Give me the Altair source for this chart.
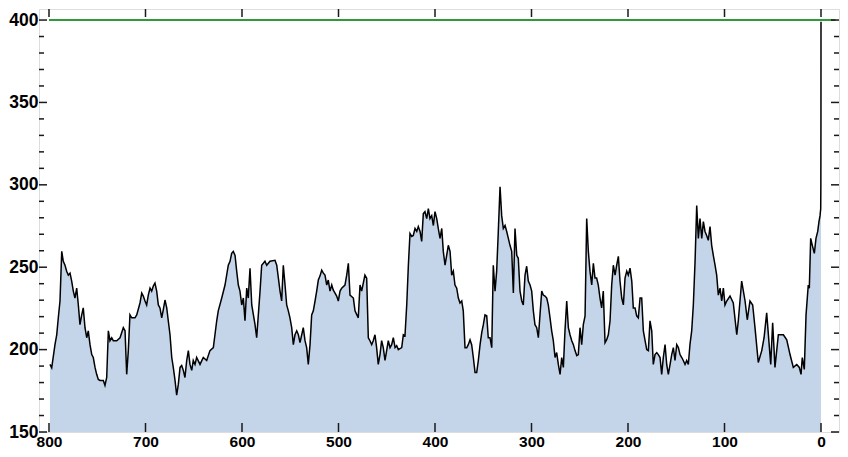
import altair as alt
import pandas as pd

# thousands of years before present
kyr = [799.0, 797.2, 793.8, 792.0, 790.4, 788.6, 786.8, 785.2, 783.4, 781.7, 780.0, 778.2, 776.5, 774.8,
       773.1, 771.3, 769.6, 767.9, 766.1, 764.5, 762.7, 760.9, 759.3, 757.5, 755.7, 754.1, 752.3, 750.6,
       748.9, 747.1, 743.7, 742.0, 740.2, 738.5, 736.8, 735.0, 733.4, 729.8, 726.4, 723.0, 721.2, 719.5,
       717.8, 716.1, 714.3, 710.9, 709.1, 705.7, 703.9, 702.3, 700.5, 698.8, 697.1, 695.3, 693.6, 691.9,
       690.2, 688.4, 686.7, 685.0, 683.2, 681.6, 679.8, 678.0, 676.4, 674.6, 672.8, 671.2, 669.4, 667.7,
       666.0, 664.2, 662.5, 660.8, 659.1, 657.3, 655.6, 653.9, 652.1, 650.5, 648.7, 647.0, 643.5, 640.1,
       636.6, 633.2, 629.7, 626.2, 624.6, 621.0, 617.6, 614.2, 612.4, 610.7, 609.0, 607.2, 605.5, 603.8,
       602.1, 600.3, 598.6, 596.9, 595.1, 593.5, 591.7, 589.9, 586.5, 584.8, 581.3, 579.6, 576.2, 574.4,
       571.0, 565.8, 564.0, 560.6, 558.9, 557.2, 555.4, 553.7, 552.0, 550.3, 548.5, 546.8, 545.1, 543.3,
       541.6, 539.9, 538.1, 536.5, 534.7, 533.0, 531.3, 529.5, 527.8, 526.1, 524.3, 522.6, 520.9, 519.2,
       517.4, 515.7, 514.0, 512.2, 510.6, 508.8, 507.0, 505.4, 503.6, 501.9, 500.2, 498.4, 496.7, 493.3,
       491.5, 489.8, 488.1, 484.6, 482.9, 479.5, 477.7, 476.0, 472.6, 470.8, 469.1, 467.4, 465.6, 464.0,
       462.2, 460.5, 458.8, 457.0, 455.3, 453.6, 451.8, 450.1, 448.4, 446.6, 444.9, 443.2, 441.4, 439.7,
       438.0, 434.5, 432.8, 431.1, 429.3, 427.6, 425.9, 424.1, 422.5, 420.7, 418.9, 417.3, 415.5, 413.8,
       412.1, 410.4, 408.6, 406.9, 405.2, 403.4, 401.7, 400.0, 398.2, 396.6, 394.8, 393.0, 391.4, 389.6,
       387.9, 386.2, 384.4, 382.7, 381.0, 379.3, 377.5, 375.8, 374.1, 372.3, 370.7, 368.9, 367.1, 365.5,
       363.7, 362.0, 360.3, 358.5, 356.8, 355.1, 353.3, 351.6, 349.9, 348.2, 346.4, 344.8, 343.0, 341.2,
       339.6, 337.8, 336.1, 334.4, 332.6, 330.9, 329.2, 327.4, 325.7, 324.0, 322.3, 320.5, 318.8, 317.1,
       315.3, 313.7, 311.9, 310.1, 308.5, 306.7, 305.0, 303.3, 301.5, 299.8, 298.1, 296.4, 294.6, 292.9,
       291.2, 289.4, 287.8, 286.0, 284.2, 282.6, 280.8, 279.1, 277.4, 275.6, 273.9, 272.2, 270.4, 268.7,
       267.0, 265.3, 263.5, 261.8, 260.1, 258.3, 256.6, 254.9, 253.1, 251.5, 249.7, 248.0, 246.3, 244.5,
       242.8, 241.1, 239.4, 237.6, 235.9, 234.2, 232.5, 230.8, 229.0, 227.3, 225.6, 223.8, 222.1, 220.4,
       218.6, 216.9, 215.2, 213.4, 211.7, 210.0, 208.3, 206.5, 204.8, 203.1, 201.3, 199.7, 197.9, 196.1,
       194.5, 192.7, 191.0, 189.3, 187.5, 185.8, 184.1, 182.3, 180.6, 178.9, 177.2, 175.4, 173.8, 172.0,
       170.2, 168.6, 166.8, 165.1, 163.4, 161.6, 159.9, 158.2, 156.4, 154.7, 153.0, 151.3, 149.5, 147.8,
       146.1, 144.3, 142.7, 140.9, 139.2, 137.5, 135.8, 134.0, 132.3, 130.5, 128.8, 127.1, 125.4, 123.6,
       121.9, 120.2, 118.5, 116.8, 115.0, 113.3, 111.6, 109.8, 108.1, 106.4, 104.6, 102.9, 101.2, 99.5,
       97.7, 94.3, 90.9, 87.3, 85.7, 82.2, 78.7, 76.4, 73.6, 70.8, 68.4, 65.0, 61.4, 59.0,
       56.3, 52.1, 50.1, 47.7, 44.2, 39.0, 35.5, 32.1, 28.7, 25.1, 22.5, 20.7, 19.4, 17.3,
       15.5, 14.2, 13.2, 12.1, 10.7, 9.0, 6.9, 5.2, 3.4, 2.1, 1.0, 0.3, 0.15, 0.05, 0.0]

# CO2 (ppm)
co2 = [191.0, 189.0, 203.0, 209.0, 219.0, 229.5, 259.6, 253.6, 251.2, 247.6, 245.2, 246.4, 241.6, 235.5,
       231.3, 237.3, 227.1, 215.1, 221.1, 225.3, 213.3, 207.2, 211.4, 203.0, 197.0, 195.2, 189.2, 185.0,
       181.9, 181.3, 181.3, 178.3, 183.1, 211.4, 205.4, 207.2, 205.4, 205.4, 207.2, 213.3, 211.4, 185.0,
       199.4, 221.1, 219.3, 219.3, 221.1, 228.3, 234.3, 232.5, 229.5, 227.1, 233.1, 237.3, 235.5, 238.6,
       240.4, 235.5, 227.1, 225.3, 219.3, 224.1, 230.1, 225.3, 217.5, 209.0, 195.2, 189.2, 181.3, 172.3,
       178.9, 189.2, 190.4, 187.4, 183.1, 193.4, 199.4, 191.0, 187.4, 193.4, 191.0, 195.2, 191.0, 195.2,
       193.4, 199.4, 201.2, 217.5, 223.5, 231.3, 239.2, 251.2, 253.6, 258.4, 259.6, 257.2, 247.6, 239.2,
       235.5, 227.1, 231.3, 217.5, 237.3, 231.3, 249.4, 227.1, 215.1, 207.2, 235.5, 251.2, 253.6, 251.2,
       253.6, 254.2, 251.2, 235.5, 229.5, 251.2, 239.2, 227.1, 223.5, 219.3, 213.3, 203.0, 209.0, 211.4,
       209.0, 204.2, 209.0, 213.3, 205.4, 201.2, 191.0, 203.0, 221.1, 223.5, 229.5, 235.5, 242.2, 244.6,
       248.2, 246.4, 245.2, 239.2, 242.2, 235.5, 239.2, 236.1, 234.3, 232.5, 229.5, 235.5, 237.3, 239.2,
       245.2, 252.4, 233.1, 231.3, 223.5, 219.3, 239.2, 235.5, 245.2, 243.4, 207.2, 205.4, 203.0, 205.4,
       209.0, 201.2, 191.0, 197.0, 205.4, 201.2, 193.4, 199.4, 205.4, 201.2, 203.0, 207.2, 201.2, 202.4,
       200.0, 201.2, 209.0, 208.4, 227.1, 251.2, 270.5, 268.7, 269.3, 273.5, 271.7, 274.7, 271.7, 265.7,
       282.5, 283.7, 279.5, 285.5, 279.5, 281.3, 275.3, 283.7, 279.5, 273.5, 267.5, 273.5, 259.6, 251.2,
       257.2, 263.3, 259.6, 245.2, 247.6, 239.2, 237.3, 231.3, 228.3, 229.5, 223.5, 201.2, 201.2, 203.0,
       206.0, 203.0, 195.2, 186.1, 186.1, 193.4, 203.0, 210.2, 215.1, 221.1, 220.5, 207.2, 207.2, 201.2,
       251.2, 235.5, 247.6, 271.7, 298.8, 281.3, 273.5, 275.3, 271.7, 267.5, 263.3, 259.6, 234.3, 273.5,
       257.2, 255.4, 235.5, 229.5, 227.1, 245.2, 250.6, 241.6, 239.2, 235.5, 223.5, 215.1, 213.3, 207.2,
       221.1, 235.5, 233.1, 232.5, 231.3, 227.1, 219.3, 211.4, 205.4, 195.2, 198.2, 191.0, 185.0, 195.2,
       189.2, 211.4, 229.5, 213.3, 209.0, 205.4, 203.0, 199.4, 196.4, 197.0, 213.3, 203.0, 215.1, 220.5,
       279.5, 259.6, 247.6, 239.2, 252.4, 243.4, 243.4, 239.2, 231.3, 225.3, 235.5, 204.2, 206.0, 209.0,
       217.5, 239.2, 251.2, 245.2, 251.2, 256.6, 241.6, 231.3, 227.1, 243.4, 247.6, 245.2, 249.4, 241.6,
       225.3, 225.3, 220.5, 219.3, 231.3, 231.3, 211.4, 205.4, 200.0, 199.4, 217.5, 211.4, 191.0, 197.0,
       198.2, 197.0, 195.2, 185.0, 195.2, 203.0, 191.0, 185.0, 191.0, 197.0, 201.2, 193.4, 203.0, 201.2,
       197.0, 195.2, 193.4, 191.0, 193.4, 191.0, 203.0, 211.4, 227.1, 253.6, 287.4, 267.5, 279.5, 267.5,
       277.7, 271.7, 269.3, 266.3, 274.7, 263.3, 257.2, 251.2, 245.2, 233.1, 237.3, 229.5, 237.3, 227.1,
       229.5, 232.5, 228.3, 209.0, 217.5, 241.6, 229.5, 218.1, 229.5, 227.1, 213.3, 192.2, 199.4, 207.2,
       222.3, 191.0, 216.3, 189.2, 209.0, 209.0, 206.0, 197.0, 189.2, 191.0, 189.2, 185.0, 195.2, 188.0,
       221.1, 231.3, 239.2, 237.3, 267.5, 263.3, 258.4, 267.5, 271.7, 277.7, 281.3, 285.5, 300.0, 340.0, 399.0]

x_ticks = [0, 100, 200, 300, 400, 500, 600, 700, 800]
y_major = [150, 200, 250, 300, 350, 400]
y_minor = [v for v in range(160, 400, 10) if v % 50 != 0]
ref_level = [400]
ref_from = [800]
ref_to = [-15]

W, H = 800, 423
xs = alt.Scale(domain=[-18.65, 810.36], reverse=True, nice=False, zero=False)
ys = alt.Scale(domain=[150, 406.7], nice=False, zero=False)

df = pd.DataFrame({"kyr": kyr, "co2": co2})
FRAME = "#1a1a1a"

x_axis = alt.Axis(values=x_ticks, ticks=False, domain=False, grid=False,
                  labelFont="Liberation Sans", labelFontSize=15.5, labelFontWeight="bold",
                  labelColor="black", labelPadding=2, labelFlush=False, labelOverlap=False)
y_axis = alt.Axis(values=y_major, ticks=False, domain=False, grid=False,
                  labelFont="Liberation Sans", labelFontSize=17.5, labelFontWeight="bold",
                  labelColor="black", labelPadding=1, labelFlush=False, labelOverlap=False)

area = alt.Chart(df).mark_area(color="#c4d5e9", clip=True).encode(
    x=alt.X("kyr:Q", scale=xs, axis=x_axis, title=None),
    y=alt.Y("co2:Q", scale=ys, axis=y_axis, title=None),
    y2=alt.datum(150),
)

line = alt.Chart(df).mark_line(color="black", strokeWidth=1.5, clip=True).encode(
    x=alt.X("kyr:Q", scale=xs, title=None),
    y=alt.Y("co2:Q", scale=ys, title=None),
)

ref_df = pd.DataFrame({"a": ref_from, "b": ref_to, "c": ref_level})
ref = alt.Chart(ref_df).mark_rule(color="#2e9a3a", strokeWidth=2).encode(
    x=alt.X("a:Q", scale=xs, title=None),
    x2="b:Q",
    y=alt.Y("c:Q", scale=ys, title=None),
)

xt = pd.DataFrame({"t": x_ticks})
ymj = pd.DataFrame({"v": y_major})
ymn = pd.DataFrame({"v": y_minor})

def xtick(y0, y1):
    return alt.Chart(xt).mark_rule(color=FRAME, strokeWidth=1.5).encode(
        x=alt.X("t:Q", scale=xs, title=None), y=alt.value(y0), y2=alt.value(y1))

def ytick(d, x0, x1):
    return alt.Chart(d).mark_rule(color=FRAME, strokeWidth=1.5).encode(
        y=alt.Y("v:Q", scale=ys, title=None), x=alt.value(x0), x2=alt.value(x1))

layers = [
    area, line, ref,
    xtick(H, H - 9), xtick(0, 8),
    ytick(ymj, 0, 8), ytick(ymn, 0, 5),
    ytick(ymj, W, W - 8), ytick(ymn, W, W - 5),
]

chart = alt.layer(*layers).properties(
    width=W, height=H,
    padding={"left": 31, "top": 1, "right": 1, "bottom": 17},
    autosize=alt.AutoSizeParams(type="none"),
).configure_view(stroke=FRAME, strokeWidth=1.6).configure(background="white")

chart.save("out.html", embed_options={"renderer": "svg", "actions": False})
